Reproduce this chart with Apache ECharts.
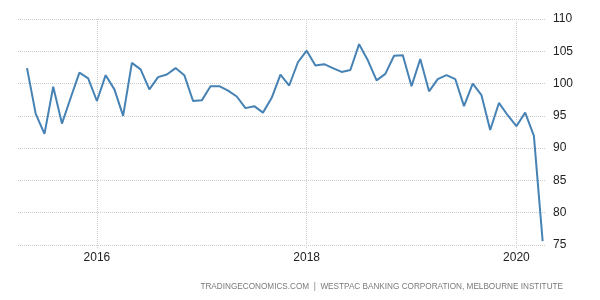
<!DOCTYPE html>
<html>
<head>
<meta charset="utf-8">
<script src="https://cdn.jsdelivr.net/npm/echarts@6/dist/echarts.min.js"></script>
<style>html,body{margin:0;padding:0;background:#fff}#c{width:600px;height:300px}</style>
</head>
<body>
<div id="c"></div>
<script>
const months = [
'2015-05','2015-06','2015-07','2015-08','2015-09','2015-10','2015-11','2015-12',
'2016-01','2016-02','2016-03','2016-04','2016-05','2016-06','2016-07','2016-08','2016-09','2016-10','2016-11','2016-12',
'2017-01','2017-02','2017-03','2017-04','2017-05','2017-06','2017-07','2017-08','2017-09','2017-10','2017-11','2017-12',
'2018-01','2018-02','2018-03','2018-04','2018-05','2018-06','2018-07','2018-08','2018-09','2018-10','2018-11','2018-12',
'2019-01','2019-02','2019-03','2019-04','2019-05','2019-06','2019-07','2019-08','2019-09','2019-10','2019-11','2019-12',
'2020-01','2020-02','2020-03','2020-04'];
const sentiment = [
102.4,95.3,92.2,99.5,93.8,97.8,101.7,100.8,
97.3,101.3,99.1,95.0,103.2,102.2,99.1,101.0,101.4,102.4,101.3,97.3,
97.4,99.6,99.6,98.9,98.0,96.2,96.5,95.5,97.8,101.4,99.7,103.3,
105.1,102.8,103.0,102.4,101.8,102.1,106.1,103.6,100.5,101.5,104.3,104.4,
99.6,103.8,98.8,100.7,101.3,100.7,96.5,100.0,98.2,92.8,97.0,95.1,
93.4,95.5,91.9,75.6];
const yearTicks = ['2016-01','2018-01','2020-01'];
const sourceText = 'TRADINGECONOMICS.COM  |  WESTPAC BANKING CORPORATION, MELBOURNE INSTITUTE';

// month string -> months since Jan 2015 (x-axis scale unit)
const mIdx = s => { const [y,m] = s.split('-').map(Number); return (y-2015)*12 + (m-1); };
const yearOf = v => 2015 + Math.floor(v/12);

const chart = echarts.init(document.getElementById('c'), null, {renderer:'canvas'});
const font = 'Arial, "Liberation Sans", sans-serif';
chart.setOption({
  animation:false,
  grid:{left:18,right:55,top:19,bottom:55,outerBoundsMode:'none',containLabel:false},
  title:{text:sourceText,right:37,bottom:9,padding:0,textStyle:{fontSize:8.2,fontWeight:'normal',color:'#7a7a7a',fontFamily:font}},
  xAxis:{type:'value',min:mIdx('2015-04')-0.03,max:mIdx('2020-04')+0.27,
    axisLine:{show:false},
    axisTick:{show:true,customValues:yearTicks.map(mIdx),length:3,lineStyle:{color:'#ccc',type:'dotted'}},
    axisLabel:{customValues:yearTicks.map(mIdx),formatter:v=>String(yearOf(v)),color:'#222',fontSize:12,fontFamily:font,margin:7},
    splitLine:{show:true,lineStyle:{color:'#ccc',type:'dotted',width:1}}
  },
  yAxis:{type:'value',position:'right',min:75,max:110,interval:5,
    axisLine:{show:false},axisTick:{show:false},
    axisLabel:{color:'#222',fontSize:12,fontFamily:font,margin:8},
    splitLine:{show:true,lineStyle:{color:'#ccc',type:'dotted',width:1}}
  },
  series:[{type:'line',data:months.map((m,i)=>[mIdx(m),sentiment[i]]),showSymbol:false,
    lineStyle:{color:'#4682b4',width:2},itemStyle:{color:'#4682b4'}}]
});
</script>
</body>
</html>
